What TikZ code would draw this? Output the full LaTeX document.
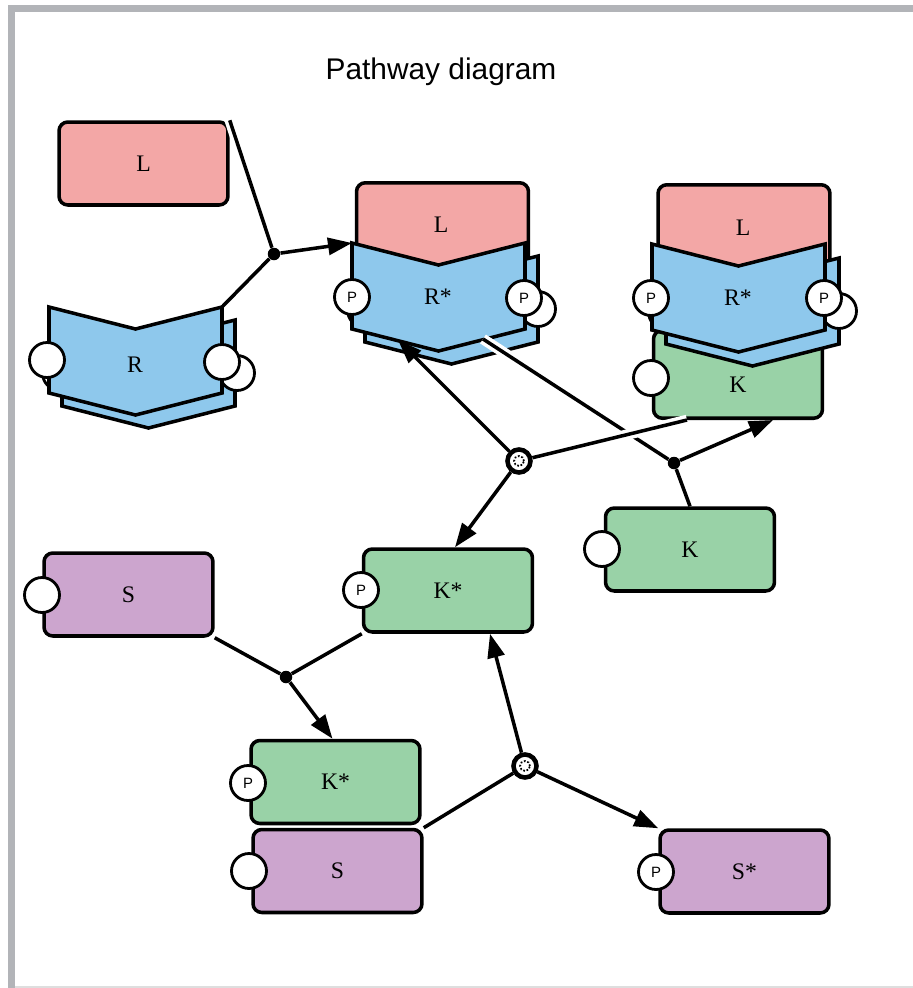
\documentclass[tikz,border=0pt]{standalone}
\usepackage{fontspec}
\setmainfont{Liberation Serif}
\setsansfont{Liberation Sans}
\usetikzlibrary{arrows.meta,calc}

\definecolor{lpink}{RGB}{243,167,166}
\definecolor{rblue}{RGB}{142,200,236}
\definecolor{kgreen}{RGB}{153,210,167}
\definecolor{spurple}{RGB}{204,165,206}
\definecolor{framegray}{RGB}{178,180,184}

\tikzset{
  sp/.style={draw, line width=2pt, rounded corners=5pt, minimum width=3.38cm,
    minimum height=1.66cm, inner sep=0pt, font=\fontsize{13.5}{15}\selectfont},
  lbl/.style={inner sep=0pt, font=\fontsize{13.5}{15}\selectfont},
  site/.style={circle, draw, line width=1.6pt, fill=white, minimum size=0.7cm,
    inner sep=0pt, font=\sffamily\fontsize{8.5}{8.5}\selectfont},
  jdot/.style={circle, fill=black, minimum size=0.25cm, inner sep=0pt},
  dissoc/.style={circle, draw, line width=2.6pt, fill=white, minimum size=0.46cm,
    inner sep=0pt, path picture={\draw[line width=1pt, densely dotted]
      (path picture bounding box.center) circle (0.1cm);}},
  link/.style={line width=2pt},
  arr/.style={link, -{Triangle[length=0.48cm, width=0.34cm]}},
  casing/.style={preaction={draw=white, line width=6pt}},
  % receptor body, origin at its top left corner
  rcpt/.pic={\draw[line width=2pt, fill=rblue]
    (0,0) -- (86.5,22) -- (173,0) -- (173,86) -- (86.5,108) -- (0,86) -- cycle;}
}

\begin{document}
\begin{tikzpicture}[x=0.02cm, y=-0.02cm]
  \useasboundingbox (0,0) rectangle (913,988);
  % frame
  \fill[framegray] (8,5) rectangle (913,12);
  \fill[framegray] (8,5) rectangle (15,988);
  \draw[black!13, line width=0.8pt] (15,987) -- (913,987);

  \node[font=\sffamily\fontsize{17}{20}\selectfont] (title) at (441,72) {Pathway diagram};

  % free ligand and receptor
  \node[sp, fill=lpink] (lfree) at (143.5,163.5) {L};
  \pic at (62,320) {rcpt};
  \node[site] (rfree-b1) at (60,373) {};
  \node[site] (rfree-b2) at (237,373) {};
  \pic at (49,307) {rcpt};
  \node[site] (rfree-s1) at (47,360) {};
  \node[site] (rfree-s2) at (222,362) {};
  \node[lbl] (rfree) at (135,365) {R};
  \coordinate (rfree-ne) at (222,307);

  % L/R* complex
  \node[sp, fill=lpink, minimum width=3.44cm, minimum height=2.2cm, anchor=north] (crc-l) at (442.5,181) {};
  \pic at (365,256) {rcpt};
  \node[site] (crc-b1) at (365,310) {};
  \node[site] (crc-b2) at (538,309) {};
  \pic at (352,243) {rcpt};
  \node[site] (crc-p1) at (352,297) {P};
  \node[site] (crc-p2) at (524,298) {P};
  \node[lbl] (crc-ltxt) at (441,225) {L};
  \node[lbl] (crc-r) at (438,297) {R*};
  \coordinate (crc-in) at (352,243);
  \coordinate (crc-dock) at (398,340);
  \coordinate (crc-out) at (483,339);

  % L/R*/K complex
  \node[sp, fill=lpink, minimum width=3.44cm, minimum height=2.2cm, anchor=north] (krc-l) at (744,183) {};
  \node[sp, fill=kgreen, minimum height=1.76cm, anchor=south] (krc-k) at (738,420) {};
  \node[site] (krc-ks) at (651,378) {};
  \pic at (666,258) {rcpt};
  \node[site] (krc-b1) at (666,312) {};
  \node[site] (krc-b2) at (839,311) {};
  \pic at (652,244) {rcpt};
  \node[site] (krc-p1) at (651,298) {P};
  \node[site] (krc-p2) at (824,298) {P};
  \node[lbl] (krc-ltxt) at (743,228) {L};
  \node[lbl] (krc-r) at (738,298) {R*};
  \node[lbl] (krc-ktxt) at (738,385) {K};

  % kinase and substrate
  \node[sp, fill=kgreen] (kfree) at (690,549.5) {K};
  \node[site] (kfree-s) at (602,549) {};
  \node[sp, fill=kgreen] (kstar) at (448,590.5) {K*};
  \node[site] (kstar-p) at (361,590) {P};
  \node[sp, fill=spurple] (sfree) at (128.5,594.5) {S};
  \node[site] (sfree-s) at (42,595) {};
  \node[sp, fill=kgreen] (ksc-k) at (335.5,782) {K*};
  \node[site] (ksc-p) at (248,783) {P};
  \node[sp, fill=spurple] (ksc-s) at (337.5,871) {S};
  \node[site] (ksc-ss) at (249,871) {};
  \node[sp, fill=spurple] (sstar) at (744.5,871.5) {S*};
  \node[site] (sstar-p) at (656,872) {P};

  % process nodes
  \node[jdot] (a1) at (274,254) {};
  \node[dissoc] (d1) at (519,461) {};
  \node[jdot] (a2) at (674,463) {};
  \node[jdot] (a3) at (286,677) {};
  \node[dissoc] (p1) at (525,766) {};

  % reactions
  \draw[link, casing] (lfree.north east) -- (a1);
  \draw[link] (rfree-ne) -- (a1);
  \draw[arr] (a1) -- (crc-in);
  \draw[arr] (d1) -- (crc-dock);
  \draw[arr] (d1) -- ($(kstar.north)+(7,0)$);
  \draw[link, casing] (crc-out) -- (a2);
  \draw[link] (kfree.north) -- (a2);
  \draw[arr, casing] (a2) -- ($(krc-k.south)+(35,0)$);
  \draw[link, casing] (d1) -- ($(krc-k.south)+(-51,0)$);
  \draw[link] (sfree.south east) -- (a3);
  \draw[link] (kstar.south west) -- (a3);
  \draw[arr] (a3) -- ($(ksc-k.north)+(-3,0)$);
  \draw[link] (ksc-s.north east) -- (p1);
  \draw[arr] (p1) -- ($(kstar.south)+(42,0)$);
  \draw[arr] (p1) -- (sstar.north west);
\end{tikzpicture}
\end{document}
